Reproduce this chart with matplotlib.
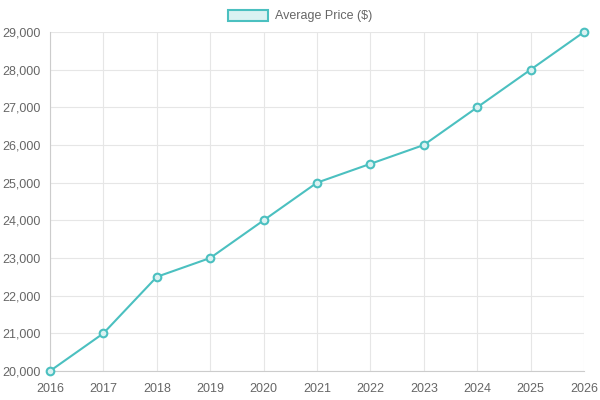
import matplotlib
matplotlib.use("Agg")
import matplotlib.pyplot as plt
from matplotlib.patches import Patch
from matplotlib.ticker import FuncFormatter

years = ["2016", "2017", "2018", "2019", "2020", "2021", "2022", "2023", "2024", "2025", "2026"]
prices = [20000, 21000, 22500, 23000, 24000, 25000, 25500, 26000, 27000, 28000, 29000]
series_label = "Average Price ($)"

plt.rcParams['font.family'] = ['Liberation Sans', 'DejaVu Sans']
teal = (75/255, 192/255, 192/255)
light = '#dbf2f2'

fig = plt.figure(figsize=(6, 4), dpi=100)
ax = fig.add_axes([50/600, 1-371/400, (584-50)/600, (371-32)/400])

x = list(range(len(years)))
ax.plot(x, prices, color=teal, linewidth=1.5, marker='o', markersize=5.5,
        markerfacecolor=light, markeredgecolor=teal, markeredgewidth=1.5,
        clip_on=False, zorder=3)

ax.set_xlim(0, len(years)-1)
ax.set_ylim(20000, 29000)
ax.set_xticks(x)
ax.set_xticklabels(years)
ax.set_yticks(range(20000, 29001, 1000))
ax.yaxis.set_major_formatter(FuncFormatter(lambda v, p: f"{int(v):,}"))
ax.grid(True, color='#e6e6e6', linewidth=0.8)
ax.set_axisbelow(True)
ax.tick_params(length=0, labelsize=9, colors='#666666')
ax.tick_params(axis='x', pad=9)
ax.tick_params(axis='y', pad=7)
for s in ['top', 'right']:
    ax.spines[s].set_visible(False)
for s in ['left', 'bottom']:
    ax.spines[s].set_color('#cccccc')
    ax.spines[s].set_linewidth(0.8)

handle = Patch(facecolor=light, edgecolor=teal, linewidth=1.5)
fig.legend([handle], [series_label], loc='center', bbox_to_anchor=(0.5, 1-16/400),
           frameon=False, fontsize=9, labelcolor='#666666',
           handlelength=3.2, handleheight=1.0, handletextpad=0.6)

fig.savefig("out.png", dpi=100)
